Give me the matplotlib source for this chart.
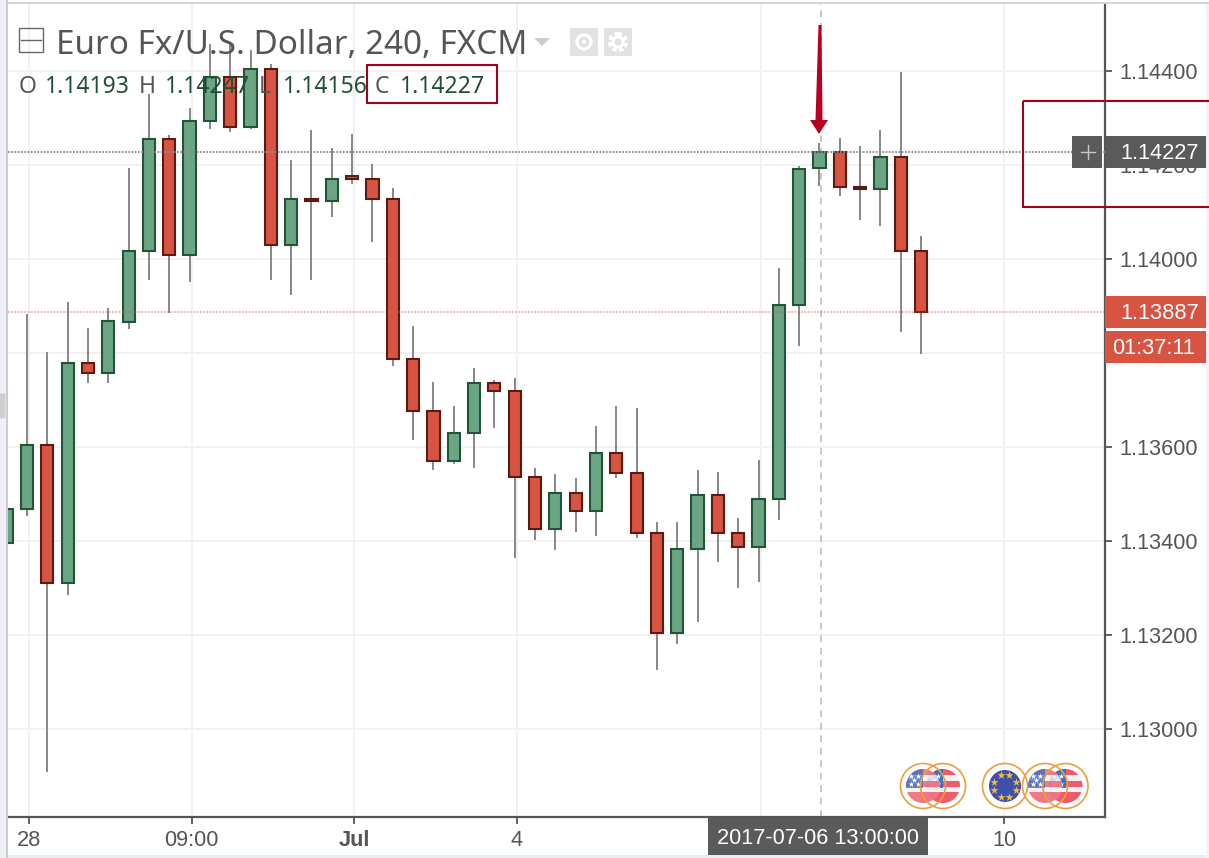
"""EUR/USD 240 candles, TradingView style screenshot."""
import numpy as np
import matplotlib
matplotlib.use("Agg")
import matplotlib.pyplot as plt
from matplotlib.patches import Rectangle, Circle, Polygon, FancyBboxPatch

plt.rcParams["font.family"] = ["Liberation Sans", "DejaVu Sans"]

# OHLC, left to right (first candle is cut by the pane edge)
opens = [1.13396, 1.13468, 1.13604, 1.13311, 1.13779, 1.13757, 1.13867, 1.14017, 1.14255, 1.14008,
         1.14294, 1.14387, 1.14281, 1.14404, 1.14030, 1.14128, 1.14123, 1.14176, 1.14170, 1.14128,
         1.13787, 1.13677, 1.13570, 1.13630, 1.13736, 1.13719, 1.13536, 1.13426, 1.13502, 1.13464,
         1.13587, 1.13545, 1.13417, 1.13204, 1.13383, 1.13498, 1.13417, 1.13387, 1.13489, 1.13902,
         1.14193, 1.14227, 1.14153, 1.14149, 1.14217, 1.14017]
highs = [1.13469, 1.13883, 1.13802, 1.13909, 1.13853, 1.13896, 1.14194, 1.14351, 1.14264, 1.14321,
         1.14457, 1.14455, 1.14445, 1.14415, 1.14211, 1.14274, 1.14236, 1.14266, 1.14202, 1.14151,
         1.13857, 1.13738, 1.13687, 1.13768, 1.13743, 1.13747, 1.13555, 1.13543, 1.13534, 1.13645,
         1.13687, 1.13683, 1.13440, 1.13440, 1.13551, 1.13547, 1.13449, 1.13572, 1.13981, 1.14198,
         1.14247, 1.14257, 1.14240, 1.14274, 1.14398, 1.14049]
lows = [1.13396, 1.13453, 1.12909, 1.13285, 1.13736, 1.13736, 1.13851, 1.13955, 1.13885, 1.13952,
        1.14277, 1.14271, 1.14277, 1.13955, 1.13923, 1.13955, 1.14089, 1.14160, 1.14037, 1.13772,
        1.13615, 1.13551, 1.13564, 1.13555, 1.13640, 1.13364, 1.13402, 1.13381, 1.13419, 1.13411,
        1.13534, 1.13406, 1.13126, 1.13181, 1.13228, 1.13355, 1.13300, 1.13313, 1.13445, 1.13815,
        1.14156, 1.14134, 1.14083, 1.14070, 1.13845, 1.13798]
closes = [1.13469, 1.13604, 1.13311, 1.13779, 1.13757, 1.13868, 1.14017, 1.14255, 1.14008, 1.14294,
          1.14387, 1.14281, 1.14404, 1.14030, 1.14128, 1.14123, 1.14170, 1.14170, 1.14128, 1.13787,
          1.13677, 1.13570, 1.13630, 1.13736, 1.13719, 1.13536, 1.13426, 1.13502, 1.13464, 1.13587,
          1.13545, 1.13417, 1.13204, 1.13383, 1.13498, 1.13417, 1.13387, 1.13489, 1.13902, 1.14191,
          1.14227, 1.14153, 1.14149, 1.14217, 1.14017, 1.13887]

y_ticks = [1.13000, 1.13200, 1.13400, 1.13600, 1.13800, 1.14000, 1.14200, 1.14400]
# 1.13800 sits fully behind the countdown label on the original
y_labels = ["1.13000", "1.13200", "1.13400", "1.13600", "", "1.14000", "1.14200", "1.14400"]
x_ticks = [0.1, 8.1, 16.1, 24.1, 48.1]
x_labels = ["28", "09:00", "Jul", "4", "10"]
x_grid_extra = [36.1]
cross_x = 39.08
cross_price = 1.14227
last_price = 1.13887

GREEN, GREEN_EDGE = "#6ba583", "#225437"
RED, RED_EDGE = "#d75442", "#5b1a13"
WICK = "#737375"
AXIS = "#555555"
DARK = "#5a5a5a"
FRAME = "#a3001e"
LABEL_SIZE = 15.7

fig = plt.figure(figsize=(12.09, 8.58), dpi=100, facecolor="white")
ax = fig.add_axes([8 / 1209, 1 - 817 / 858, (1105 - 8) / 1209, (817 - 4) / 858])

# candles
x = np.arange(-1, len(opens) - 1)
o, h, l, c = map(np.array, (opens, highs, lows, closes))
up = c >= o
ax.vlines(x, l, h, color=WICK, lw=1.2, zorder=3)
ax.bar(x[up], (c - o)[up], 0.6, bottom=o[up], color=GREEN, edgecolor=GREEN_EDGE, lw=1.5, zorder=4)
ax.bar(x[~up], (c - o)[~up], 0.6, bottom=o[~up], color=RED, edgecolor=RED_EDGE, lw=1.5, zorder=4)

# price lines and crosshair
ax.axhline(cross_price, color="#8c8c8c", lw=1.3, ls=(0, (1, 0.8)), zorder=5)
ax.axhline(last_price, color=RED, lw=1.3, ls=(0, (1, 0.8)), alpha=0.45, zorder=5)
ax.axvline(cross_x, color="#bdbdbd", lw=1.2, ls=(0, (4, 3.5)), zorder=2)

ax.set_xlim(-0.935, 53.05)
ax.set_ylim(1.128128, 1.145426)
ax.yaxis.tick_right()
ax.set_yticks(y_ticks, y_labels)
ax.set_xticks(x_ticks, x_labels)
ax.tick_params(axis="y", length=5, width=1.3, color=AXIS, labelcolor="#555555", labelsize=LABEL_SIZE, pad=5.5)
ax.tick_params(axis="x", length=5, width=1.3, color=AXIS, labelcolor="#555555", labelsize=LABEL_SIZE, pad=4)
ax.get_xticklabels()[2].set_fontweight("bold")
ax.grid(color="#f2f2f2", lw=1.4, zorder=0)
ax.set_axisbelow(True)
for xg in x_grid_extra:
    ax.axvline(xg, color="#f2f2f2", lw=1.4, zorder=0)
for side in ("left", "top"):
    ax.spines[side].set_visible(False)
for side in ("right", "bottom"):
    ax.spines[side].set_color(AXIS)
    ax.spines[side].set_linewidth(1.6)

# screen furniture goes on a pixel overlay
ov = fig.add_axes([0, 0, 1, 1], zorder=10)
ov.set_xlim(0, 1209)
ov.set_ylim(858, 0)
ov.axis("off")
ov.patch.set_alpha(0)


def price_y(p):
    return 71 + (1.144 - p) * 47000


def box(x0, y0, x1, y1, **kw):
    ov.add_patch(Rectangle((x0, y0), x1 - x0, y1 - y0, **kw))


# window edges
box(0, 0, 7, 858, fc="#eff1f6", ec="none")
box(6, 0, 8, 858, fc="#c9ccd2", ec="none")
ov.add_patch(FancyBboxPatch((1, 395), 3, 22, boxstyle="round,pad=1.5", fc="#cfcfcf", ec="none"))
box(8, 2, 1209, 4, fc="#d4d6db", ec="none")
box(8, 855, 1209, 858, fc="#e9edf2", ec="none")
box(1206, 4, 1209, 858, fc="#f0f3f7", ec="none")

# title row
ov.text(56, 54, "Euro Fx/U.S. Dollar, 240, FXCM", fontsize=23.9, color="#555555", family=["Noto Sans"],
        ha="left", va="baseline")
box(19, 28, 43, 52, fc="none", ec="#666666", lw=1)
ov.plot([21, 41], [40, 40], color="#666666", lw=1)
ov.add_patch(Polygon([(534, 38), (550, 38), (542, 46)], fc="#cccccc", ec="none"))
box(570, 28, 598, 56, fc="#e2e2e2", ec="none")
ov.add_patch(Circle((584, 42), 7, fc="none", ec="white", lw=2.2))
ov.add_patch(Circle((584, 42), 2, fc="white", ec="none"))
box(604, 28, 632, 56, fc="#e2e2e2", ec="none")
ov.add_patch(Circle((618, 42), 8, fc="none", ec="white", lw=3, ls=(0, (1, 0.6))))
ov.add_patch(Circle((618, 42), 5, fc="none", ec="white", lw=2))

# OHLC row
for sx, s in zip([19, 139, 259, 375], "OHLC"):
    ov.text(sx, 93, s, fontsize=16.5, color="#555555", family=["Noto Sans"], ha="left", va="baseline")
for sx, s in zip([45, 165, 283, 400], ["1.14193", "1.14247", "1.14156", "1.14227"]):
    ov.text(sx, 93, s, fontsize=16.5, color="#1f4f33", family=["Noto Sans"], ha="left", va="baseline")
box(367, 65, 497, 103, fc="none", ec=FRAME, lw=1.5)

# right hand highlight, arrow
box(1023, 101, 1212, 207, fc="none", ec=FRAME, lw=1.5)
ov.add_patch(Polygon([(818.5, 25), (821.5, 25), (822.5, 120), (828, 120), (819, 134), (810, 120), (815.5, 120)],
                     fc="#b5001f", ec="none"))

# price labels
cy = price_y(cross_price)
ly = price_y(last_price)
box(1072, cy - 16, 1102, cy + 16, fc=DARK, ec="none")
ov.plot([1081, 1095], [cy, cy], color="#c8c8c8", lw=1)
ov.plot([1088, 1088], [cy - 7, cy + 7], color="#c8c8c8", lw=1)
box(1105, cy - 16, 1206, cy + 16, fc=DARK, ec="none")
ov.text(1120, cy + 1, "1.14227", color="white", fontsize=LABEL_SIZE, va="center", ha="left")
box(1105, ly - 16, 1206, ly + 16, fc=RED, ec="none")
ov.text(1120, ly + 1, "1.13887", color="white", fontsize=LABEL_SIZE, va="center", ha="left")
box(1105, ly + 19, 1206, ly + 51, fc=RED, ec="none")
ov.text(1112, ly + 36, "01:37:11", color="white", fontsize=LABEL_SIZE, va="center", ha="left")

# crosshair time label
box(708, 817, 928, 855, fc=DARK, ec="none")
ov.text(818, 838, "2017-07-06 13:00:00", color="white", fontsize=LABEL_SIZE, va="center", ha="center")


def us_flag(cx, cy, alpha=1.0):
    r = 17
    clip = Circle((cx, cy), r, transform=ov.transData)
    items = [ov.add_patch(Rectangle((cx - r, cy - r), 2 * r, 2 * r, fc="#f1f2f6", ec="none", alpha=alpha))]
    for top in (-r, -r + 11.5, -r + 23):
        items.append(ov.add_patch(Rectangle((cx - r, cy + top), 2 * r, 6 if top < 6 else 11, fc="#ef5b6b", ec="none", alpha=alpha)))
    items.append(ov.add_patch(Rectangle((cx - r, cy - r), r, r + 2, fc="#3f6fc4", ec="none", alpha=alpha)))
    for it in items:
        it.set_clip_path(clip)
    stars = ov.scatter([cx - 12, cx - 5, cx - 12, cx - 5, cx - 9], [cy - 10, cy - 10, cy - 2, cy - 2, cy - 6],
                       marker="*", s=20, c="white", lw=0)
    stars.set_clip_path(clip)


def ring(cx, cy):
    ov.add_patch(Circle((cx, cy), 22.5, fc="none", ec="#ec9f3c", lw=1.2))


def eu_flag(cx, cy):
    ov.add_patch(Circle((cx, cy), 16, fc="#3e50a8", ec="none"))
    ang = np.deg2rad(np.arange(0, 360, 45) + 22)
    ov.scatter(cx + 11.5 * np.cos(ang), cy + 11.5 * np.sin(ang), marker="*", s=38, c="#f2b84b", lw=0)


for cx in (943, 1065.5):
    us_flag(cx, 786)
for cx in (923, 1045):
    us_flag(cx, 786, alpha=0.8)
eu_flag(1005, 786)
for cx in (923, 943, 1005, 1045, 1065.5):
    ring(cx, 786)

fig.savefig("out.png", dpi=100)
